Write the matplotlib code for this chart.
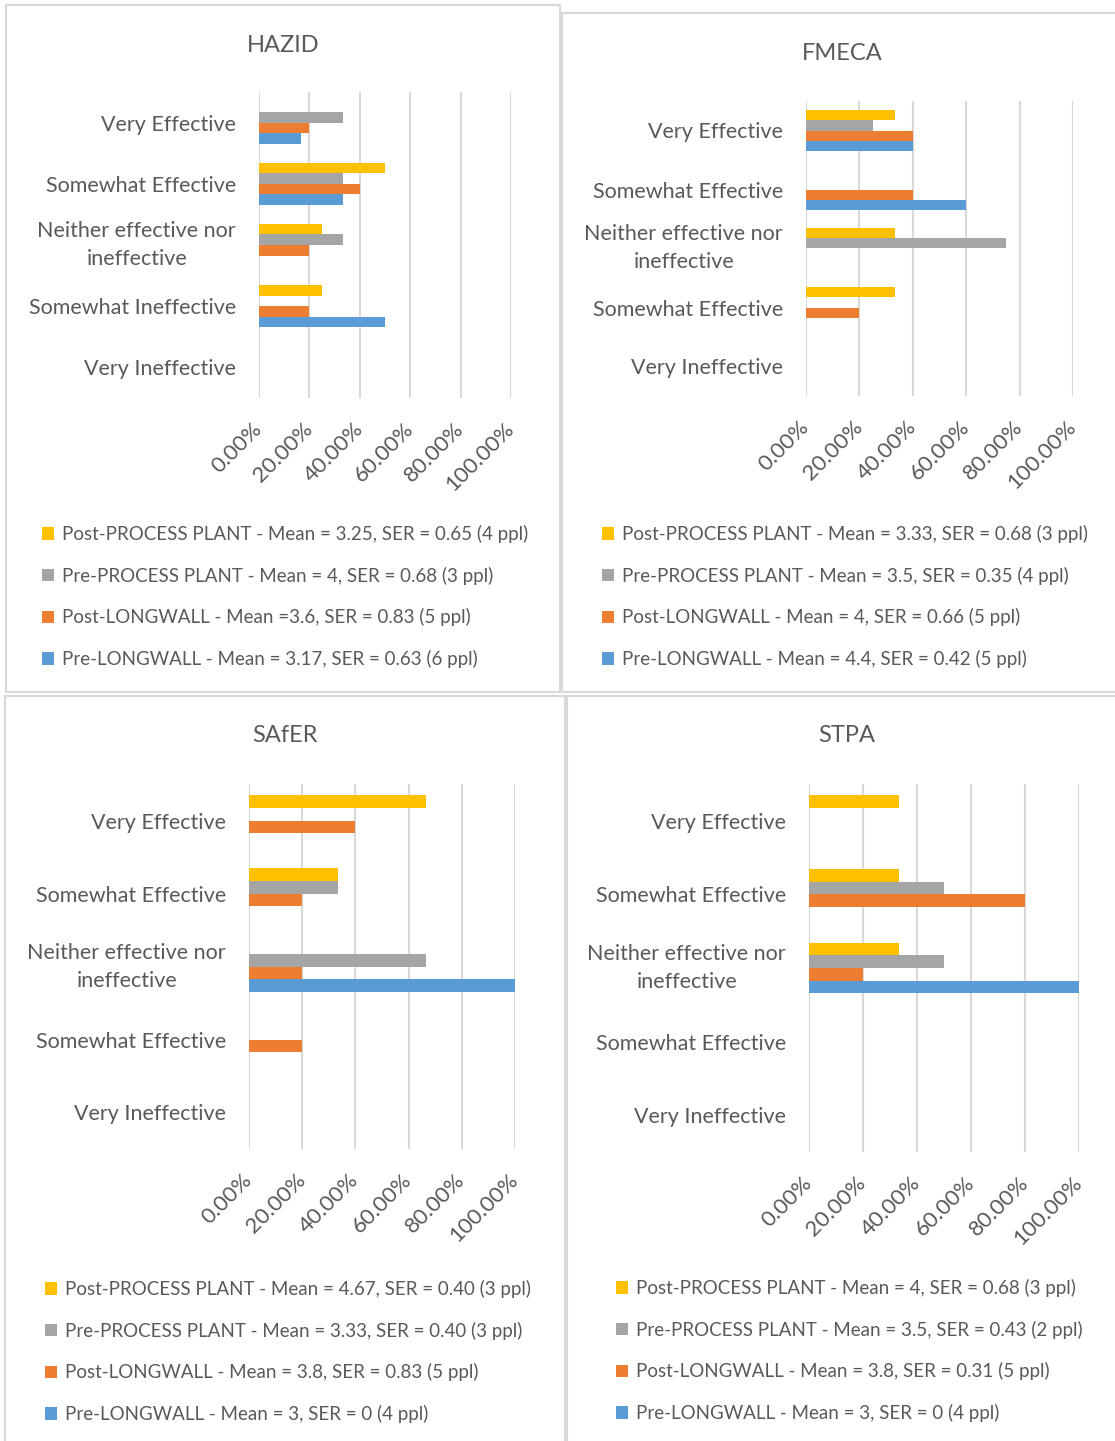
import matplotlib
matplotlib.use("Agg")
import matplotlib.pyplot as plt
import matplotlib.patches as mpatches
import numpy as np

plt.rcParams["font.family"] = ["Lato", "DejaVu Sans"]

W, H = 1115, 1441
TXT = "#595959"
GRID = "#d9d9d9"
SERIES_COL = ["#FFC000", "#A5A5A5", "#ED7D31", "#5B9BD5"]  # Post-PP, Pre-PP, Post-LW, Pre-LW

CATS_HAZID = ["Very Effective", "Somewhat Effective", "Neither effective nor\nineffective",
              "Somewhat Ineffective", "Very Ineffective"]
CATS_OTHER = ["Very Effective", "Somewhat Effective", "Neither effective nor\nineffective",
              "Somewhat Effective", "Very Ineffective"]
X_TICKS = [0, 0.2, 0.4, 0.6, 0.8, 1.0]
X_TICKLABELS = ["0.00%", "20.00%", "40.00%", "60.00%", "80.00%", "100.00%"]

# HAZID
hazid_post_pp = [0.0, 0.50, 0.25, 0.25, 0.0]
hazid_pre_pp = [0.333, 0.333, 0.333, 0.0, 0.0]
hazid_post_lw = [0.20, 0.40, 0.20, 0.20, 0.0]
hazid_pre_lw = [0.167, 0.333, 0.0, 0.50, 0.0]
hazid_labels = ["Post-PROCESS PLANT - Mean = 3.25, SER = 0.65 (4 ppl)",
                "Pre-PROCESS PLANT - Mean = 4, SER = 0.68 (3 ppl)",
                "Post-LONGWALL - Mean =3.6, SER = 0.83 (5 ppl)",
                "Pre-LONGWALL - Mean = 3.17, SER = 0.63 (6 ppl)"]

# FMECA
fmeca_post_pp = [0.333, 0.0, 0.333, 0.333, 0.0]
fmeca_pre_pp = [0.25, 0.0, 0.75, 0.0, 0.0]
fmeca_post_lw = [0.40, 0.40, 0.0, 0.20, 0.0]
fmeca_pre_lw = [0.40, 0.60, 0.0, 0.0, 0.0]
fmeca_labels = ["Post-PROCESS PLANT - Mean = 3.33, SER = 0.68 (3 ppl)",
                "Pre-PROCESS PLANT - Mean = 3.5, SER = 0.35 (4 ppl)",
                "Post-LONGWALL - Mean = 4, SER = 0.66 (5 ppl)",
                "Pre-LONGWALL - Mean = 4.4, SER = 0.42 (5 ppl)"]

# SAfER
safer_post_pp = [0.667, 0.333, 0.0, 0.0, 0.0]
safer_pre_pp = [0.0, 0.333, 0.667, 0.0, 0.0]
safer_post_lw = [0.40, 0.20, 0.20, 0.20, 0.0]
safer_pre_lw = [0.0, 0.0, 1.0, 0.0, 0.0]
safer_labels = ["Post-PROCESS PLANT - Mean = 4.67, SER = 0.40 (3 ppl)",
                "Pre-PROCESS PLANT - Mean = 3.33, SER = 0.40 (3 ppl)",
                "Post-LONGWALL - Mean = 3.8, SER = 0.83 (5 ppl)",
                "Pre-LONGWALL - Mean = 3, SER = 0 (4 ppl)"]

# STPA
stpa_post_pp = [0.333, 0.333, 0.333, 0.0, 0.0]
stpa_pre_pp = [0.0, 0.50, 0.50, 0.0, 0.0]
stpa_post_lw = [0.0, 0.80, 0.20, 0.0, 0.0]
stpa_pre_lw = [0.0, 0.0, 1.0, 0.0, 0.0]
stpa_labels = ["Post-PROCESS PLANT - Mean = 4, SER = 0.68 (3 ppl)",
               "Pre-PROCESS PLANT - Mean = 3.5, SER = 0.43 (2 ppl)",
               "Post-LONGWALL - Mean = 3.8, SER = 0.31 (5 ppl)",
               "Pre-LONGWALL - Mean = 3, SER = 0 (4 ppl)"]


def px_rect(x0, y0, x1, y1):
    """Pixel box (top-left origin) -> figure fraction [l, b, w, h]."""
    return [x0 / W, 1 - y1 / H, (x1 - x0) / W, (y1 - y0) / H]


fig = plt.figure(figsize=(W / 100, H / 100), dpi=100)

# chart frames
for (x0, y0, x1, y1) in [(6, 5, 560, 692), (562, 13, 1125, 692),
                         (5, 696, 565, 1450), (567, 696, 1125, 1450)]:
    fig.patches.append(mpatches.Rectangle((x0 / W, 1 - y1 / H), (x1 - x0) / W, (y1 - y0) / H,
                                          transform=fig.transFigure, fill=False,
                                          edgecolor=GRID, lw=1.6))


def panel(box, title, title_xy, cats, series, labels, leg_xy):
    ax = fig.add_axes(px_rect(*box))
    bh = 0.1725
    offs = [-1.5 * bh, -0.5 * bh, 0.5 * bh, 1.5 * bh]
    y = np.arange(len(cats))
    handles = []
    for vals, off, col, lab in zip(series, offs, SERIES_COL, labels):
        b = ax.barh(y + off, vals, height=bh, color=col, label=lab, zorder=3)
        handles.append(b)
    ax.set_xlim(0, 1.0)
    ax.set_ylim(len(cats) - 0.5, -0.5)
    ax.set_xticks(X_TICKS)
    ax.set_xticklabels(X_TICKLABELS, rotation=45, ha="right", va="center",
                       rotation_mode="anchor", fontsize=16, color=TXT)
    ax.set_yticks(y)
    ax.set_yticklabels(cats, fontsize=15.5, color=TXT, multialignment="center")
    for t in ax.get_yticklabels():
        t.set_linespacing(1.5)
        if "\n" in t.get_text():
            t.set_va("center")
    ax.tick_params(axis="both", length=0)
    ax.tick_params(axis="x", pad=20)
    ax.tick_params(axis="y", pad=16.5)
    ax.grid(axis="x", color=GRID, lw=1.5, zorder=0)
    for s in ax.spines.values():
        s.set_visible(False)
    fig.text(title_xy[0] / W, 1 - title_xy[1] / H, title, fontsize=17, color=TXT,
             ha="center", va="center")
    fig.legend(handles=handles, labels=labels, loc="upper left",
               bbox_to_anchor=(leg_xy[0] / W, 1 - leg_xy[1] / H),
               frameon=False, fontsize=13.5, labelcolor=TXT,
               handlelength=0.65, handleheight=0.65, handletextpad=0.4,
               labelspacing=1.26, borderaxespad=0, borderpad=0)
    return ax


panel((259, 92, 511, 398), "HAZID", (283, 45), CATS_HAZID,
      [hazid_post_pp, hazid_pre_pp, hazid_post_lw, hazid_pre_lw], hazid_labels, (42, 525))
panel((806, 101, 1073, 396), "FMECA", (842, 53), CATS_OTHER,
      [fmeca_post_pp, fmeca_pre_pp, fmeca_post_lw, fmeca_pre_lw], fmeca_labels, (602, 525))
panel((249, 784, 515, 1149), "SAfER", (285, 736), CATS_OTHER,
      [safer_post_pp, safer_pre_pp, safer_post_lw, safer_pre_lw], safer_labels, (45, 1280))
panel((809, 784, 1079, 1152), "STPA", (847, 736), CATS_OTHER,
      [stpa_post_pp, stpa_pre_pp, stpa_post_lw, stpa_pre_lw], stpa_labels, (616, 1279))

fig.savefig("out.png", dpi=100)
